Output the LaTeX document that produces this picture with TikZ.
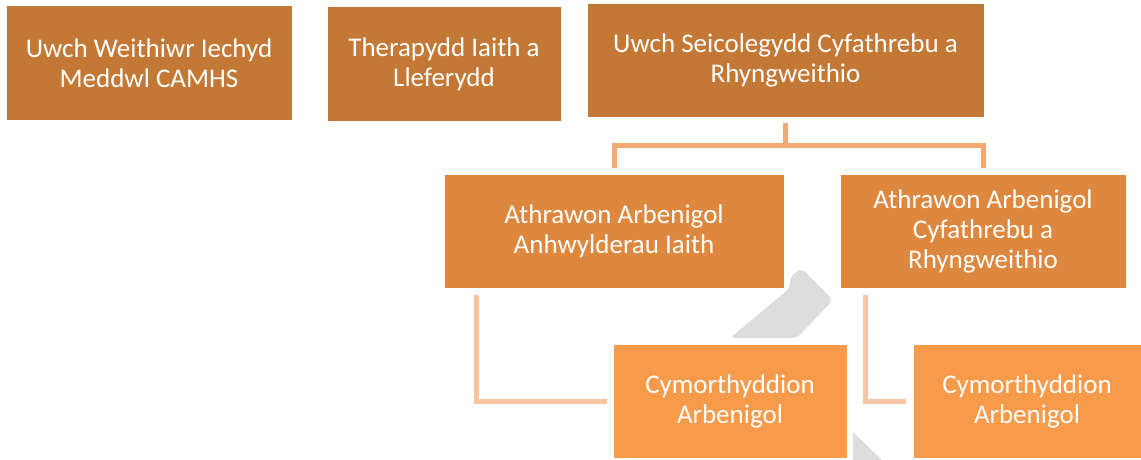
\documentclass[tikz,border=0pt]{standalone}
\usepackage{fontspec}
\setmainfont{Carlito}
\definecolor{cA}{HTML}{C47835}
\definecolor{cB}{HTML}{DE873F}
\definecolor{cC}{HTML}{F79A4A}
\definecolor{lnA}{HTML}{F4A872}
\definecolor{lnB}{HTML}{F8C4A2}
\definecolor{gry}{HTML}{DDDDDD}
\tikzset{
  box/.style={rectangle, inner sep=0pt, text=white, align=center,
    font=\fontsize{27}{30}\selectfont, draw=white, line width=1pt},
  boxA/.style={box, fill=cA},
  boxB/.style={box, fill=cB},
  boxC/.style={box, fill=cC},
  connA/.style={draw=lnA, line width=5pt},
  connB/.style={draw=lnB, line width=5pt},
}
\begin{document}
\begin{tikzpicture}[x=1pt,y=-1pt]
\useasboundingbox (0,0) rectangle (1141,460);
% grey background shapes
\fill[gry, rounded corners=5pt] (730,338) -- (790,288) -- (790,277) -- (801,268) -- (833,300) -- (797,338) -- cycle;
\fill[gry] (853,432) -- (882,460) -- (853,460) -- cycle;

\node[boxA, minimum width=286pt, minimum height=114pt] (b1) at (149,63) {Uwch Weithiwr Iechyd\\Meddwl CAMHS};
\node[boxA, minimum width=234pt, minimum height=114pt] (b2) at (444,64) {Therapydd Iaith a\\Lleferydd};
\node[boxA, minimum width=397pt, minimum height=113pt] (b3) at (785.5,60.5) {Uwch Seicolegydd Cyfathrebu a\\Rhyngweithio};
\node[boxB, minimum width=340pt, minimum height=114pt] (b4) at (614,231) {Athrawon Arbenigol\\Anhwylderau Iaith};
\node[boxB, minimum width=286pt, minimum height=114pt] (b5) at (983,231) {Athrawon Arbenigol\\Cyfathrebu a\\Rhyngweithio};
\node[boxC, minimum width=234pt, minimum height=114pt] (b6) at (730,401) {Cymorthyddion\\Arbenigol};
\node[boxC, minimum width=228pt, minimum height=114pt] (b7) at (1027,401) {Cymorthyddion\\Arbenigol};

% connectors
\draw[connA] ([yshift=-5pt]b3.south) -- ++(0,23) coordinate (j);
\draw[connA] ([yshift=6pt]b4.north) |- (j) -| ([yshift=6pt]b5.north);
\draw[connB] ([xshift=33pt,yshift=-6pt]b4.south west) |- ([xshift=-6pt]b6.west);
\draw[connB] ([xshift=26pt,yshift=-6pt]b5.south west) |- ([xshift=-7pt]b7.west);
\end{tikzpicture}
\end{document}
